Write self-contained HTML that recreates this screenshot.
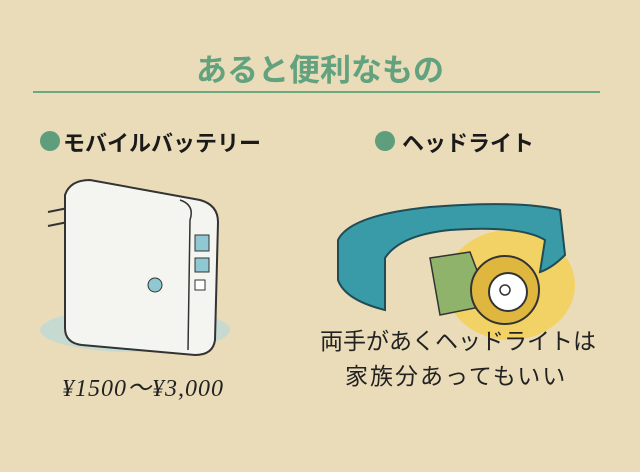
<!DOCTYPE html>
<html><head><meta charset="utf-8"><style>
body{margin:0;width:640px;height:472px;overflow:hidden;background:#eadcb9;font-family:"Liberation Sans","Noto Sans CJK JP",sans-serif;position:relative}
.t{position:absolute;white-space:nowrap}
</style></head><body>
<div class="t" style="left:0;width:640px;text-align:center;top:45px;font-size:31px;font-weight:bold;color:#62a27e">あると便利なもの</div>
<div style="position:absolute;left:33px;top:91px;width:567px;height:2px;background:#6aa882"></div>
<div style="position:absolute;left:40px;top:131px;width:20px;height:20px;border-radius:50%;background:#5e9e7c"></div>
<div class="t" style="left:63px;top:126px;font-size:22px;font-weight:bold;color:#1a1a1a">モバイルバッテリー</div>
<div style="position:absolute;left:375px;top:131px;width:20px;height:20px;border-radius:50%;background:#5e9e7c"></div>
<div class="t" style="left:402px;top:126px;font-size:22px;font-weight:bold;color:#1a1a1a">ヘッドライト</div>
<svg width="640" height="472" style="position:absolute;left:0;top:0">
<ellipse cx="135" cy="330" rx="95" ry="22" fill="#b7d8dc" opacity=".7"/>
<path d="M48 212 L68 208 M48 226 L68 222" stroke="#333" stroke-width="2"/>
<path d="M65 195 Q70 180 90 180 L200 200 Q218 205 218 222 L215 340 Q213 355 195 355 L82 345 Q65 343 65 328 Z" fill="#f4f4f0" stroke="#333" stroke-width="2"/>
<path d="M180 200 Q195 205 190 220 L188 350" stroke="#333" stroke-width="1.5" fill="none"/>
<rect x="195" y="235" width="14" height="16" fill="#8fc7d2" stroke="#333"/>
<rect x="195" y="258" width="14" height="14" fill="#8fc7d2" stroke="#333"/>
<rect x="195" y="280" width="10" height="10" fill="#fff" stroke="#333"/>
<circle cx="155" cy="285" r="7" fill="#8fc7d2" stroke="#333"/>
<ellipse cx="510" cy="285" rx="65" ry="55" fill="#f5cf4a" opacity=".75"/>
<path d="M338 240 Q350 215 430 207 Q520 200 560 210 L565 255 Q552 268 540 272 L545 240 Q520 225 450 230 Q400 235 385 258 L385 310 Q345 300 338 280 Z" fill="#3a9ba8" stroke="#1f4c55" stroke-width="2"/>
<path d="M430 258 L470 252 L490 305 L440 315 Z" fill="#8fb36a" stroke="#333" stroke-width="1.5"/>
<circle cx="505" cy="290" r="34" fill="#dfb73e" stroke="#333" stroke-width="2"/>
<circle cx="508" cy="292" r="19" fill="#fff" stroke="#333" stroke-width="2"/>
<circle cx="505" cy="290" r="5" fill="none" stroke="#333" stroke-width="1.5"/>
</svg>
<div class="t" style="left:62px;top:368px;font-size:24px;color:#222;font-style:italic;font-family:'Liberation Serif','Noto Sans CJK JP',serif;letter-spacing:1px">¥1500～¥3,000</div>
<div class="t" style="left:320px;top:322px;font-size:23px;color:#222">両手があくヘッドライトは</div>
<div class="t" style="left:345px;top:357px;font-size:23px;color:#222;letter-spacing:2px">家族分あってもいい</div>
</body></html>
